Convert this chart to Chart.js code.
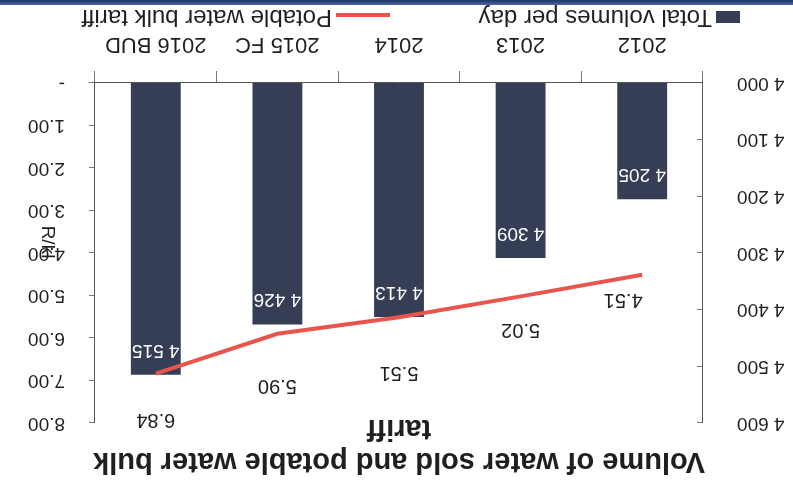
<!DOCTYPE html>
<html>
<head>
<meta charset="utf-8">
<script src="https://cdn.jsdelivr.net/npm/chart.js@4/dist/chart.umd.min.js"></script>
<style>
  html, body { margin: 0; padding: 0; background: #fff; overflow: hidden; }
  #frame { position: relative; width: 793px; height: 484px; background: #fff; transform: rotate(180deg); }
  #frame canvas { position: absolute; left: 0; top: 0; }
  #band { position: absolute; left: 0; right: 0; bottom: 0; height: 5px; background: linear-gradient(#4a66a3, #1d3366); }
</style>
</head>
<body>
<div id="frame">
  <canvas id="chart" width="793" height="484"></canvas>
  <div id="band"></div>
</div>
<script>
// Volume of water sold (per day) and the potable water bulk tariff (R/kl)
const categories = ['2012', '2013', '2014', '2015 FC', '2016 BUD'];
const volumesPerDay = [4205, 4309, 4413, 4426, 4515];
const bulkTariff = [4.51, 5.02, 5.51, 5.90, 6.84];
const titleLines = ['Volume of water sold and potable water bulk', 'tariff'];
const tariffAxisTitle = 'R/kl';

const FONT = "'Liberation Sans', Arial, sans-serif";
const TEXT = '#1f1f1f';
const BAR = '#353e54';
const LINE = '#e8554c';

const spaced = v => String(Math.round(v)).replace(/\B(?=(\d{3})+(?!\d))/g, ' ');

// Title, axis title, value labels and legend drawn on the canvas
const decorations = {
  id: 'decorations',
  afterDatasetsDraw(chart, args, opts) {
    const ctx = chart.ctx;
    ctx.save();

    // bar values, white, just inside the top of each bar
    const barMeta = chart.getDatasetMeta(0);
    ctx.font = `19px ${FONT}`;
    ctx.fillStyle = '#ffffff';
    ctx.textAlign = 'center';
    ctx.textBaseline = 'middle';
    barMeta.data.forEach((bar, i) => {
      ctx.fillText(spaced(chart.data.datasets[0].data[i]), bar.x, bar.y + opts.barLabelInset);
    });

    // tariff values above the line
    const lineMeta = chart.getDatasetMeta(1);
    ctx.font = `20px ${FONT}`;
    ctx.fillStyle = TEXT;
    lineMeta.data.forEach((pt, i) => {
      const [dx, dy] = opts.lineLabelShift[i];
      ctx.fillText(chart.data.datasets[1].data[i].toFixed(2), pt.x + dx, pt.y + dy);
    });
    ctx.restore();
  },
  afterDraw(chart, args, opts) {
    const ctx = chart.ctx;
    ctx.save();

    // chart title
    ctx.fillStyle = TEXT;
    ctx.font = `bold 29px ${FONT}`;
    ctx.textAlign = 'center';
    ctx.textBaseline = 'middle';
    titleLines.forEach((line, i) => ctx.fillText(line, opts.titleX, opts.titleY + i * opts.titleGap));

    // secondary axis title
    ctx.font = `19px ${FONT}`;
    ctx.translate(opts.axisTitleX, opts.axisTitleY);
    ctx.rotate(-Math.PI / 2);
    ctx.fillText(tariffAxisTitle, 0, 0);
    ctx.setTransform(1, 0, 0, 1, 0, 0);

    // legend
    const ly = opts.legendY;
    const ds = chart.data.datasets;
    ctx.font = `24px ${FONT}`;
    ctx.textAlign = 'left';
    ctx.fillStyle = ds[0].backgroundColor;
    ctx.fillRect(opts.legendX0, ly - 6, 24, 12);
    ctx.fillStyle = TEXT;
    ctx.fillText(ds[0].label, opts.legendX0 + 28, ly);
    ctx.strokeStyle = ds[1].borderColor;
    ctx.lineWidth = 4;
    ctx.beginPath();
    ctx.moveTo(opts.legendX1, ly + 2);
    ctx.lineTo(opts.legendX1 + 54, ly + 2);
    ctx.stroke();
    ctx.fillText(ds[1].label, opts.legendX1 + 58, ly);
    ctx.restore();
  }
};

new Chart(document.getElementById('chart'), {
  data: {
    labels: categories,
    datasets: [
      {
        type: 'bar',
        label: 'Total volumes per day',
        data: volumesPerDay,
        yAxisID: 'y',
        backgroundColor: BAR,
        barPercentage: 0.41,
        categoryPercentage: 1,
        order: 2
      },
      {
        type: 'line',
        label: 'Potable water bulk tariff',
        data: bulkTariff,
        yAxisID: 'y1',
        borderColor: LINE,
        backgroundColor: LINE,
        borderWidth: 4,
        pointRadius: 0,
        tension: 0,
        order: 1
      }
    ]
  },
  options: {
    responsive: false,
    animation: false,
    devicePixelRatio: 1,
    layout: { padding: { top: 61, bottom: 28, left: 0, right: 0 } },
    plugins: {
      legend: { display: false },
      tooltip: { enabled: false },
      decorations: {
        barLabelInset: 25,
        lineLabelShift: [[19, -25], [0, -33], [0, -55], [0, -52], [0, -46]],
        titleX: 394, titleY: 23, titleGap: 33,
        axisTitleX: 746, axisTitleY: 242,
        legendY: 467, legendX0: 53, legendX1: 403
      }
    },
    scales: {
      x: {
        grid: { offset: true, drawOnChartArea: false, tickLength: 12, color: '#777' },
        border: { color: '#555' },
        ticks: { font: { size: 22, family: FONT }, color: TEXT, padding: 14 },
        afterFit(s) { s.height = 55; }
      },
      y: {
        position: 'left',
        min: 4000, max: 4600,
        grid: { drawOnChartArea: false, tickLength: -6, color: '#777' },
        border: { color: '#555' },
        ticks: { stepSize: 100, font: { size: 19, family: FONT }, color: TEXT, padding: 40, callback: v => spaced(v) },
        afterFit(s) { s.width = 90; }
      },
      y1: {
        position: 'right',
        min: 0, max: 8,
        grid: { drawOnChartArea: false, tickLength: 6, color: '#777' },
        border: { color: '#555' },
        ticks: { stepSize: 1, font: { size: 19, family: FONT }, color: TEXT, padding: 24, callback: v => v === 0 ? '-' : v.toFixed(2) },
        afterFit(s) { s.width = 95; }
      }
    }
  },
  plugins: [decorations]
});
</script>
</body>
</html>
